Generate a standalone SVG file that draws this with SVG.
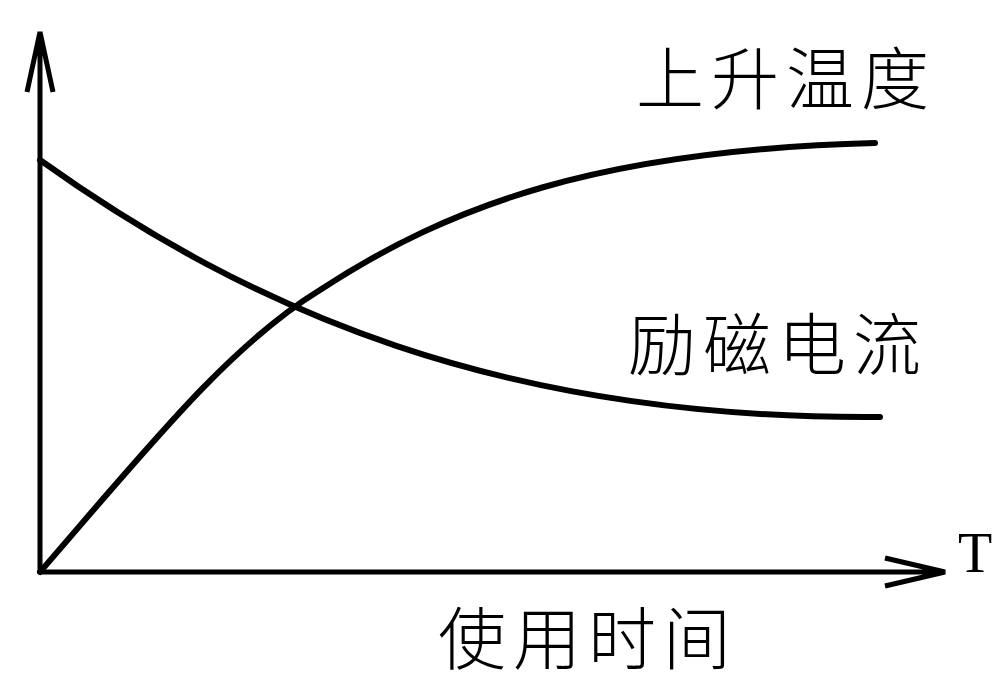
<svg xmlns="http://www.w3.org/2000/svg" width="1000" height="682" viewBox="0 0 1000 682">
<style>
.ax{stroke:#000;stroke-width:5;fill:none}
.cv{stroke:#000;stroke-width:6;fill:none;stroke-linecap:round}
.cn{font-family:"Noto Sans CJK SC",sans-serif;font-size:68px;font-weight:300;letter-spacing:7px;fill:#000}
</style>
<rect width="1000" height="682" fill="#fff"/>
<g id="axes">
<path class="ax" d="M40,574 V32 M27,92 L40,32 L53,92 M40,572 H945 M885,558 L945,572 L885,586"/>
</g>
<g id="curves">
<path class="cv" d="M40,572 C150,445 230,345 320,290 C450,205 600,150 875,143"/>
<path class="cv" d="M40,160 C250,310 500,420 880,417"/>
</g>
<text class="cn" x="636" y="104">上升温度</text>
<text class="cn" x="628" y="370">励磁电流</text>
<text class="cn" x="438" y="664">使用时间</text>
<text x="958" y="572" font-family="Liberation Serif,serif" font-size="56">T</text>
</svg>
